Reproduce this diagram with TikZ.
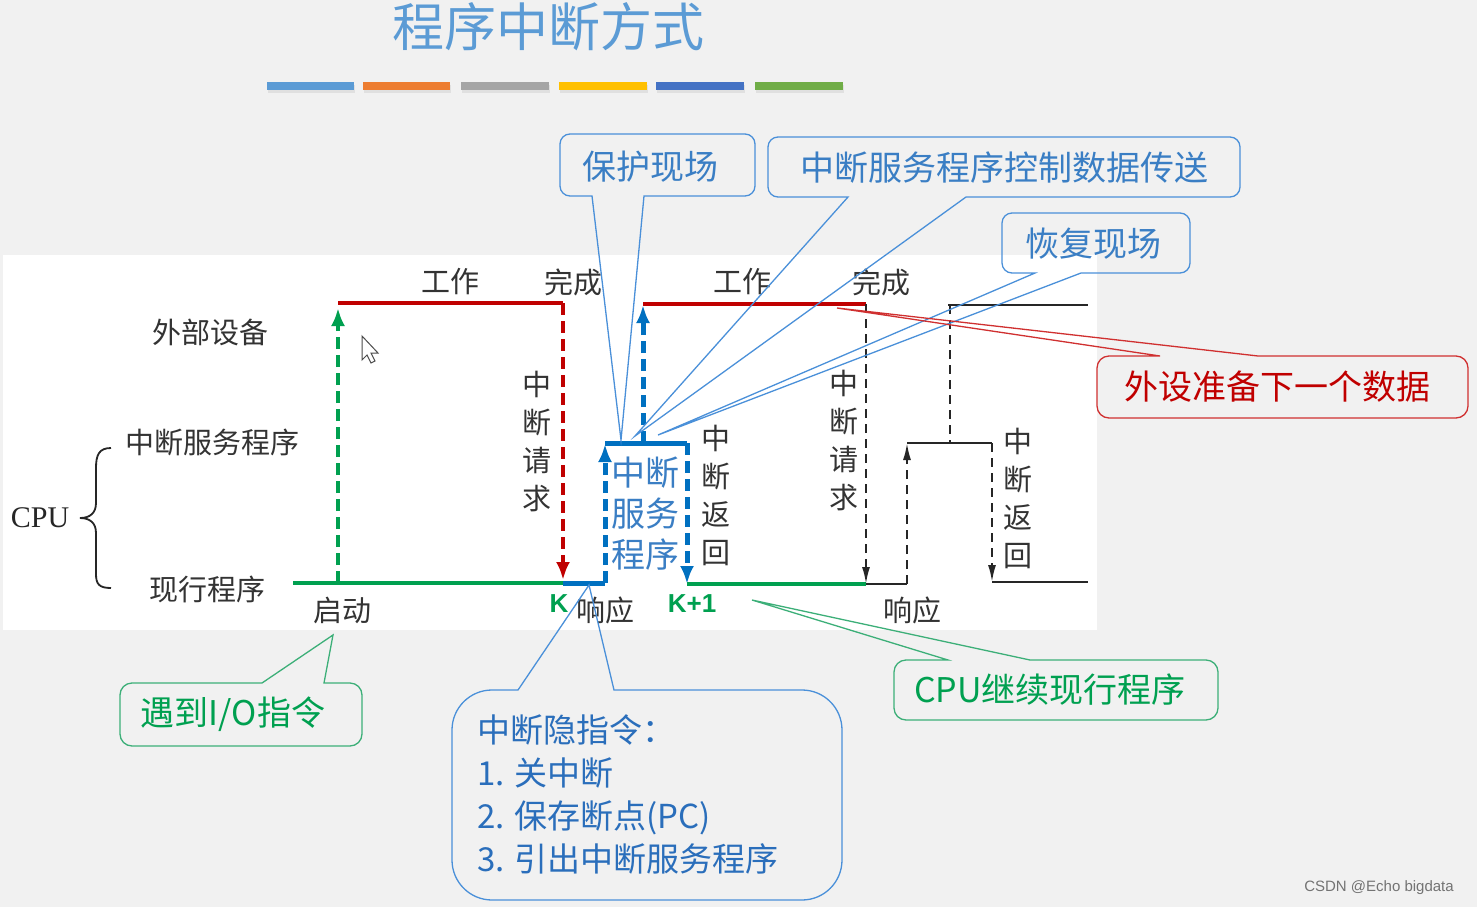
\documentclass[tikz,border=0pt]{standalone}
\usepackage{fontspec}
\setmainfont{Liberation Serif}
\newfontfamily\cjk{Noto Sans CJK SC}
\newfontfamily\lsans{Liberation Sans}
\usetikzlibrary{arrows.meta}
\definecolor{bggray}{HTML}{F1F1F1}
\definecolor{titleblue}{HTML}{5B9BD5}
\definecolor{myred}{HTML}{C00000}
\definecolor{mygreen}{HTML}{00A050}
\definecolor{myblue}{HTML}{0070C0}
\definecolor{cbline}{HTML}{4A90D9}
\definecolor{cbtext}{HTML}{3A7EC4}
\definecolor{cbtext2}{HTML}{2A6EBB}
\definecolor{cgline}{HTML}{3CAF78}
\definecolor{crline}{HTML}{D03030}
\definecolor{barA}{HTML}{5B9BD5}
\definecolor{barB}{HTML}{ED7D31}
\definecolor{barC}{HTML}{A5A5A5}
\definecolor{barD}{HTML}{FFC000}
\definecolor{barE}{HTML}{4472C4}
\definecolor{barF}{HTML}{70AD47}
\tikzset{
  lbl/.style={font=\cjk\fontsize{29}{38}\selectfont, text=black!80, inner sep=0pt},
  vlbl/.style={lbl, align=center},
  ktext/.style={font=\lsans\bfseries\fontsize{26}{30}\selectfont, text=mygreen, inner sep=0pt},
  redline/.style={draw=myred, line width=4pt},
  greenline/.style={draw=mygreen, line width=4pt},
  blueline/.style={draw=myblue, line width=5pt},
  blackline/.style={draw=black!85, line width=2pt},
  cdash/.style={dash pattern=on 12pt off 6pt},
  bdash/.style={dash pattern=on 9pt off 6pt},
  ctip/.style={-{Latex[length=18pt,width=14pt]}},
  ktip/.style={-{Latex[length=17pt,width=8pt]}},
  cbbox/.style={draw=cbline, line width=1.3pt},
  cgbox/.style={draw=cgline, line width=1.3pt},
  crbox/.style={draw=crline, line width=1.3pt},
  cbtxt/.style={font=\cjk\fontsize{34}{40}\selectfont, text=cbtext, inner sep=0pt},
  cgtxt/.style={font=\cjk\fontsize{34}{40}\selectfont, text=mygreen, inner sep=0pt},
  crtxt/.style={font=\cjk\fontsize{34}{40}\selectfont, text=myred, inner sep=0pt},
  bar/.style={line width=8pt}
}
\begin{document}
\begin{tikzpicture}[x=1pt,y=-1pt]
\useasboundingbox (0,0) rectangle (1477,907);
\fill[bggray] (0,0) rectangle (1477,907);
\fill[white] (3,255) rectangle (1097,630);

% title
\node[font=\cjk\fontsize{52}{56}\selectfont, text=titleblue, inner sep=0pt] (title) at (548,27) {程序中断方式};
% colour bars
\foreach \a/\b/\c in {267/354/barA,363/450/barB,461/549/barC,559/647/barD,656/744/barE,755/843/barF}{
  \draw[bar, black!12] (\a+1,89) -- (\b+1,89);
  \draw[bar, \c] (\a,86) -- (\b,86);
}

% left labels
\node[lbl] (dev) at (210,332) {外部设备};
\node[lbl] (isr) at (212,442) {中断服务程序};
\node[lbl] (cur) at (207,589) {现行程序};
\node[font=\fontsize{30}{34}\selectfont, text=black!85, inner sep=0pt] (cpu) at (40,518) {CPU};
\draw[black!85, line width=1.8pt] (111,448) .. controls (99,448) and (96,455) .. (96,468) -- (96,503)
  .. controls (96,513) and (90,518) .. (80,518)
  .. controls (90,518) and (96,523) .. (96,533) -- (96,574)
  .. controls (96,584) and (99,588) .. (111,588);

% coordinates
\coordinate (P0) at (293,583);
\coordinate (S) at (338,583);
\coordinate (K) at (563,583);
\coordinate (D1) at (338,303);
\coordinate (D2) at (563,303);
\coordinate (B1) at (605,583);
\coordinate (B2) at (605,443);
\coordinate (BM) at (643,443);
\coordinate (B3) at (687,443);
\coordinate (B4) at (687,584);
\coordinate (D3) at (643,304);
\coordinate (D4) at (866,304);
\coordinate (G2) at (866,584);
\coordinate (R1) at (907,584);
\coordinate (R2) at (907,443);
\coordinate (RM) at (950,443);
\coordinate (R3) at (992,443);
\coordinate (R4) at (992,582);
\coordinate (R5) at (1088,582);
\coordinate (D5) at (948,305);
\coordinate (DM) at (950,305);
\coordinate (D6) at (1088,305);

% first cycle
\draw[greenline] (P0) -- (K);
\draw[redline] (D1) -- (D2);
\draw[greenline, cdash, ctip, shorten >=5pt] (S) -- (D1);
\draw[redline, cdash, ctip, shorten >=3pt] (D2) -- (K);
% interrupt service
\draw[blueline] (K) -- (B1);
\draw[blueline, cdash, ctip, shorten >=1pt] (B1) -- (B2);
\draw[blueline] (B2) -- (B3);
\draw[blueline, cdash, ctip] (B3) -- (B4);
\draw[blueline, cdash, ctip, shorten >=1pt] (BM) -- (D3);
% second cycle
\draw[redline] (D3) -- (D4);
\draw[greenline] (B4) -- (G2);
\draw[blackline, bdash, ktip] (D4) -- (G2);
\draw[blackline] (G2) -- (R1);
\draw[blackline, bdash, ktip] (R1) -- (R2);
\draw[blackline] (R2) -- (R3);
\draw[blackline, bdash] (DM) -- (RM);
\draw[blackline, bdash, ktip] (R3) -- (R4);
\draw[blackline] (R4) -- (R5);
\draw[blackline] (D5) -- (D6);

% labels on diagram
\node[lbl] (w1) at (450,282) {工作};
\node[lbl] (c1) at (573,282) {完成};
\node[lbl] (w2) at (742,282) {工作};
\node[lbl] (c2) at (881,282) {完成};
\node[vlbl] (req1) at (537,442) {中\\断\\请\\求};
\node[vlbl] (ret1) at (716,495) {中\\断\\返\\回};
\node[vlbl] (req2) at (844,441) {中\\断\\请\\求};
\node[vlbl] (ret2) at (1018,498) {中\\断\\返\\回};
\node[lbl] (start) at (342,610) {启动};
\node[lbl] (resp1) at (605,610) {响应};
\node[lbl] (resp2) at (912,610) {响应};
\node[ktext] (kk) at (559,604) {K};
\node[ktext] (kk1) at (692,604) {K+1};
\node[font=\cjk\fontsize{34}{41}\selectfont, text=cbtext, inner sep=0pt, align=center] (isrtxt) at (645,514) {中断\\服务\\程序};

% mouse cursor
\draw[black!70, fill=white, line width=1pt] (362,336) -- (362,360) -- (367,355) -- (371,363) -- (375,361) -- (371,353) -- (378,353) -- cycle;

% callout: 保护现场
\coordinate (tipA) at (621,440);
\draw[cbbox] (644,196) [rounded corners=10pt] -- (755,196) -- (755,134) -- (560,134) -- (560,196) [sharp corners] -- (592,196) -- (tipA) -- cycle;
\node[cbtxt] (bh) at (650,167) {保护现场};
% callout: 中断服务程序控制数据传送
\coordinate (tipB) at (635,436);
\draw[cbbox] (966,197) [rounded corners=10pt] -- (1240,197) -- (1240,137) -- (768,137) -- (768,197) [sharp corners] -- (848,197) -- (tipB) -- cycle;
\node[cbtxt] (kz) at (1004,168) {中断服务程序控制数据传送};
% callout: 恢复现场
\coordinate (tipC) at (658,435);
\draw[cbbox] (1081,273) [rounded corners=10pt] -- (1190,273) -- (1190,213) -- (1002,213) -- (1002,273) [sharp corners] -- (1035,273) -- (tipC) -- cycle;
\node[cbtxt] (hf) at (1093,244) {恢复现场};
% callout: 外设准备下一个数据
\coordinate (tipD) at (837,308);
\draw[crbox] (1258,356) [rounded corners=12pt] -- (1468,356) -- (1468,418) -- (1097,418) -- (1097,356) [sharp corners] -- (1160,356) -- (tipD) -- cycle;
\node[crtxt] (wz) at (1277,387) {外设准备下一个数据};
% callout: CPU继续现行程序
\coordinate (tipE) at (752,600);
\draw[cgbox] (1030,660) [rounded corners=12pt] -- (1218,660) -- (1218,720) -- (894,720) -- (894,660) [sharp corners] -- (948,660) -- (tipE) -- cycle;
\node[cgtxt] (jx) at (1050,690) {CPU继续现行程序};
% callout: 遇到I/O指令
\coordinate (tipF) at (333,635);
\draw[cgbox] (324,683) [rounded corners=12pt] -- (362,683) -- (362,746) -- (120,746) -- (120,683) [sharp corners] -- (262,683) -- (tipF) -- cycle;
\node[cgtxt] (yd) at (233,714) {遇到I/O指令};
% callout: 中断隐指令
\coordinate (tipG) at (589,585);
\draw[cbbox] (614,690) [rounded corners=40pt] -- (842,690) -- (842,900) -- (452,900) -- (452,690) [sharp corners] -- (518,690) -- (tipG) -- cycle;
\node[font=\cjk\fontsize{33}{43}\selectfont, text=cbtext2, inner sep=0pt, align=left, anchor=north west] (yz) at (477,714)
  {中断隐指令：\\1. 关中断\\2. 保存断点(PC)\\3. 引出中断服务程序};

% watermark
\node[font=\lsans\fontsize{15}{18}\selectfont, text=black!55, inner sep=0pt] (wm) at (1379,888) {CSDN @Echo bigdata};
\end{tikzpicture}
\end{document}
